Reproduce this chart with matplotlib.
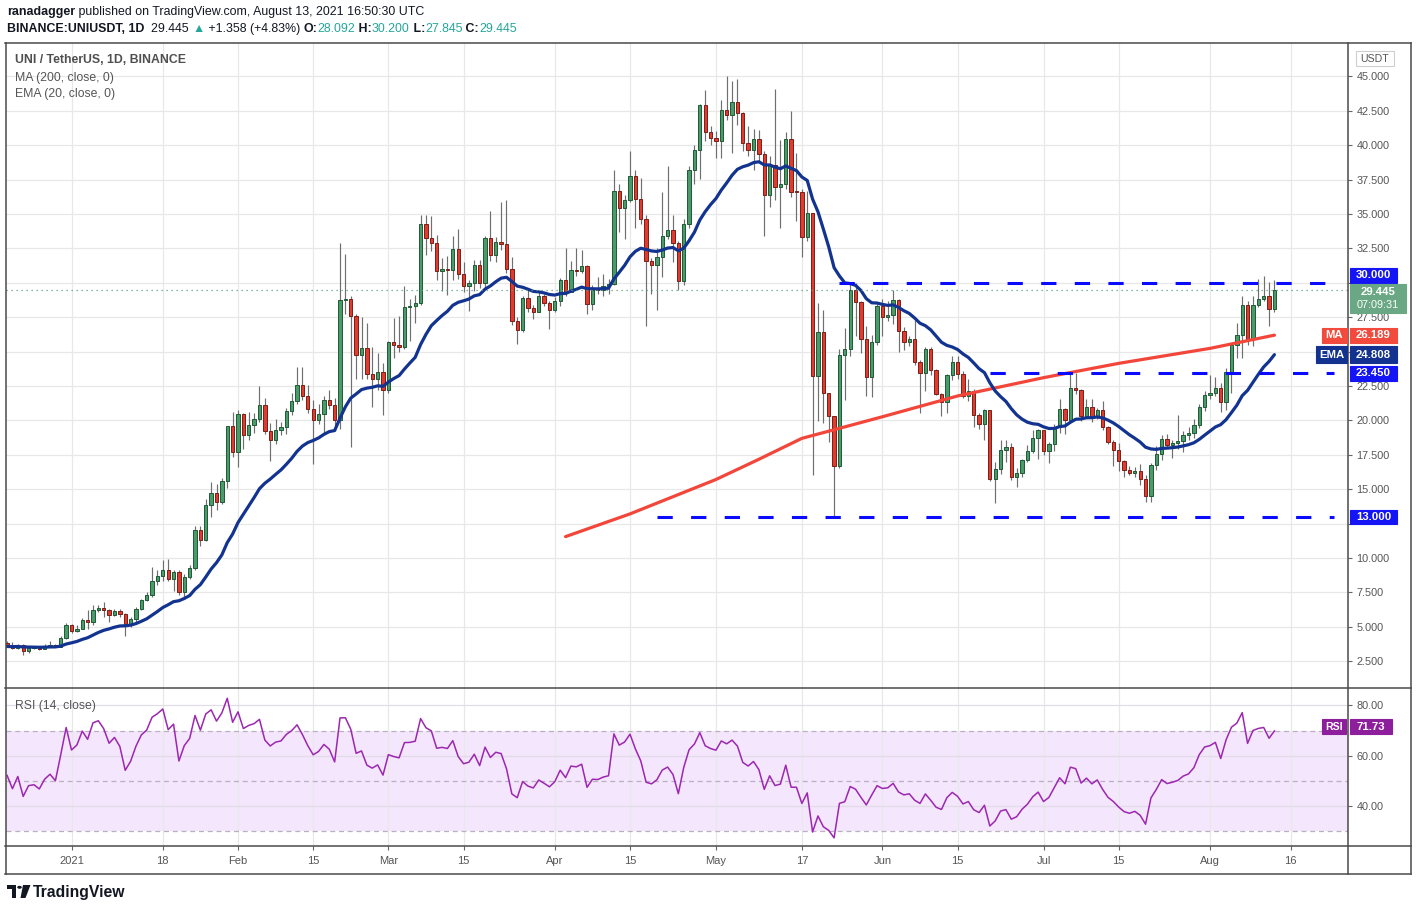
import numpy as np
import pandas as pd
import matplotlib
matplotlib.use("Agg")
import matplotlib.pyplot as plt
from matplotlib.patches import Rectangle, Circle, Polygon
from matplotlib.lines import Line2D

plt.rcParams['font.family'] = ['Liberation Sans', 'DejaVu Sans']

# daily candles, 2020-12-20 .. 2021-08-13 (open = previous close)
first_open = 3.85
closes = [
    3.70, 3.44, 3.68, 3.24, 3.46, 3.48, 3.39, 3.58, 3.68, 3.56, 4.16, 5.16,  # Dec 20-31
    4.67, 4.87, 5.52, 5.33, 6.25, 6.39, 6.20, 5.84, 6.13, 5.90,  # Jan
    5.20, 5.57, 6.30, 6.97, 7.30, 8.33, 8.67, 9.15, 8.50, 8.96,
    7.50, 8.64, 9.27, 12.06, 11.28, 13.87, 14.72, 14.04, 15.61, 19.56, 17.67,
    20.47, 18.90, 19.65, 20.09, 21.13, 19.20, 18.60, 19.29, 19.50, 20.67,  # Feb
    21.39, 22.56, 21.76, 20.81, 19.99, 20.45, 21.47, 21.08, 19.99, 28.75,
    28.80, 27.61, 24.76, 25.24, 23.38, 22.97, 23.50, 22.17,
    25.70, 25.46, 25.30, 28.25, 28.30, 28.53, 34.30, 33.26, 32.90, 30.84,  # Mar
    31.03, 30.90, 32.46, 30.64, 29.75, 29.99, 31.30, 29.99, 33.26, 32.00,
    32.97, 32.82, 31.00, 27.20, 26.53, 28.90, 28.17, 27.88, 29.00, 28.54, 28.05,
    28.70, 30.23, 29.33, 30.93, 30.84, 31.20, 28.49, 29.50, 29.46, 29.75,  # Apr
    29.90, 36.65, 35.40, 36.04, 37.74, 36.10, 34.64, 31.56, 31.30, 31.90,
    33.38, 33.86, 32.92, 30.10, 34.30, 38.17, 39.63, 42.90, 40.96, 40.54,
    40.30, 42.58, 42.20, 43.10, 42.36, 40.18, 39.67, 40.47, 39.38, 36.36,  # May
    38.55, 36.93, 37.15, 40.42, 36.62, 36.60, 33.30, 35.04, 23.20, 26.40,
    22.00, 20.34, 16.71, 24.75, 25.19, 29.48, 28.58, 25.90, 23.18, 25.72, 28.33,
    27.49, 27.66, 28.75, 26.47, 25.67, 25.90, 24.27, 23.44, 25.19, 23.66,  # Jun
    21.92, 21.36, 23.30, 24.22, 23.40, 21.78, 22.14, 20.40, 19.77, 20.74,
    15.77, 16.45, 17.83, 18.03, 15.85, 16.16, 17.10, 17.74, 18.70, 19.30,
    17.78, 18.27, 19.48, 20.81, 20.01, 22.38, 22.20, 20.33, 21.00, 20.25,  # Jul
    20.74, 19.55, 18.46, 17.86, 17.06, 16.38, 16.14, 16.30, 15.77, 14.50,
    16.73, 17.58, 18.62, 18.20, 18.33, 18.50, 18.90, 19.10, 19.66, 20.97, 21.84,
    22.00, 22.37, 21.33, 23.50, 25.45, 26.17, 28.35, 25.88, 28.35, 28.79,  # Aug
    29.00, 28.092, 29.445,
]
highs = [
    3.95, 3.92, 3.75, 3.72, 3.50, 3.55, 3.52, 3.78, 4.00, 3.72, 4.36, 5.30,
    5.20, 5.14, 5.62, 6.20, 6.60, 6.60, 6.83, 6.30, 6.30, 6.30,
    5.98, 5.70, 6.40, 7.05, 7.50, 9.37, 9.15, 9.88, 9.95, 9.10,
    9.10, 8.80, 9.50, 12.30, 12.30, 14.30, 15.50, 15.40, 15.80, 19.60, 20.57,
    20.77, 20.50, 20.57, 20.50, 22.53, 21.60, 19.80, 20.10, 19.90, 20.90,
    22.00, 23.84, 23.84, 22.60, 21.50, 21.20, 21.80, 22.18, 21.60, 32.90,
    32.10, 29.00, 27.70, 27.50, 27.10, 25.30, 24.90, 24.20,
    25.80, 27.47, 27.60, 29.79, 28.80, 29.10, 34.90, 34.95, 34.85, 33.50,
    31.80, 31.95, 33.40, 33.90, 31.50, 30.20, 31.65, 31.65, 33.40, 35.20,
    33.30, 35.90, 36.00, 31.90, 27.50, 29.00, 29.55, 28.40, 29.35, 29.20, 28.70,
    28.98, 30.35, 32.53, 31.60, 32.53, 32.40, 31.30, 29.80, 30.40, 30.60,
    30.30, 38.17, 37.20, 36.40, 39.58, 38.17, 37.60, 34.90, 31.80, 32.50,
    36.60, 38.46, 34.90, 33.00, 34.60, 38.46, 40.00, 42.98, 43.98, 41.40,
    41.00, 43.25, 45.00, 44.64, 44.80, 42.40, 41.40, 41.20, 41.10, 39.60,
    39.20, 44.10, 40.37, 40.97, 42.45, 39.40, 36.80, 36.70, 35.10, 28.50,
    28.00, 21.00, 20.00, 25.20, 26.70, 30.00, 30.00, 28.70, 26.85, 26.20, 28.45,
    28.80, 28.70, 29.45, 28.80, 26.80, 26.15, 27.30, 24.40, 25.30, 25.30,
    23.70, 22.00, 23.40, 24.70, 24.70, 23.55, 23.02, 22.30, 20.50, 20.80,
    20.70, 17.00, 18.56, 18.60, 18.35, 16.50, 17.20, 18.20, 19.30, 19.40,
    19.30, 18.40, 19.70, 21.53, 20.90, 23.47, 23.47, 22.30, 21.53, 21.53,
    20.90, 21.44, 19.60, 18.60, 18.36, 17.10, 16.70, 16.60, 16.80, 16.05,
    16.90, 18.10, 18.91, 18.98, 18.60, 20.36, 19.25, 19.50, 20.08, 21.16, 22.13,
    23.27, 23.15, 22.70, 23.77, 25.60, 27.04, 29.00, 28.70, 29.00, 30.24,
    30.48, 30.06, 30.20,
]
lows = [
    3.60, 3.35, 3.40, 2.93, 3.12, 3.40, 3.33, 3.36, 3.55, 3.50, 3.55, 4.10,
    4.55, 4.60, 4.85, 4.84, 5.10, 6.10, 5.70, 5.33, 5.80, 5.70,
    4.30, 5.00, 5.28, 6.20, 6.90, 7.17, 8.00, 8.30, 8.30, 7.58,
    7.30, 7.02, 8.50, 9.10, 10.90, 11.20, 12.97, 13.46, 13.90, 15.08, 17.30,
    16.60, 17.93, 18.60, 19.10, 19.90, 19.00, 17.01, 18.30, 18.90, 19.00,
    20.40, 21.20, 21.50, 20.50, 16.82, 19.70, 19.10, 20.80, 19.50, 19.40,
    27.70, 18.06, 23.00, 23.00, 23.00, 20.96, 22.20, 20.40,
    22.00, 24.52, 25.00, 25.20, 25.80, 27.10, 28.40, 32.00, 32.30, 30.20,
    29.43, 29.10, 30.20, 30.30, 29.30, 27.93, 29.40, 29.60, 29.60, 31.60,
    31.50, 32.40, 30.70, 26.90, 25.56, 26.45, 27.90, 27.35, 27.88, 28.30, 26.65,
    27.90, 28.30, 29.00, 29.30, 30.50, 30.70, 27.76, 28.00, 29.20, 29.00,
    29.20, 29.80, 33.70, 33.20, 35.90, 33.95, 34.30, 26.86, 29.20, 28.00,
    30.40, 33.20, 31.50, 29.46, 29.80, 34.00, 37.20, 37.54, 40.30, 40.00,
    39.10, 39.10, 41.80, 39.40, 41.45, 39.60, 39.20, 38.22, 38.80, 33.40,
    35.50, 36.00, 33.95, 36.80, 36.20, 34.50, 31.85, 33.00, 16.00, 19.98,
    19.80, 18.40, 13.08, 16.50, 21.50, 24.70, 26.10, 24.90, 21.80, 21.70, 25.50,
    26.10, 27.20, 27.00, 25.00, 25.10, 25.40, 24.00, 20.50, 22.10, 23.30,
    21.87, 20.30, 20.50, 22.90, 23.00, 21.60, 21.42, 19.53, 19.40, 18.58,
    15.60, 13.96, 16.10, 17.00, 15.70, 15.12, 15.90, 17.00, 17.60, 17.18,
    17.50, 16.90, 17.80, 19.10, 19.00, 19.96, 21.90, 19.94, 20.20, 19.90,
    20.09, 19.30, 18.27, 16.70, 16.30, 15.90, 16.00, 15.90, 15.30, 14.10,
    14.07, 16.40, 17.10, 17.97, 17.25, 17.90, 17.70, 18.60, 18.70, 19.45, 20.68,
    21.53, 21.80, 20.60, 20.76, 21.96, 24.55, 24.55, 25.50, 25.41, 28.20,
    28.70, 26.85, 27.845,
]

# 200-day MA (history before the window is not shown)
ma_dates = ['2021-04-03', '2021-04-15', '2021-05-01', '2021-05-09', '2021-05-17',
            '2021-05-24', '2021-06-01', '2021-06-15', '2021-07-01', '2021-07-15',
            '2021-08-01', '2021-08-13']
ma_vals = [11.55, 13.2, 15.7, 17.17, 18.69, 19.42, 20.26, 21.77, 23.1, 24.14, 25.23, 26.19]
ema_seed = 3.55
rsi_seed_gain, rsi_seed_loss = 0.10, 0.08

level_vals = [30.0, 23.45, 13.0]
level_start = ['2021-05-24', '2021-06-21', '2021-04-20']
level_end = '2021-08-24'

tick_dates = ['2021-01-01', '2021-01-18', '2021-02-01', '2021-02-15', '2021-03-01',
              '2021-03-15', '2021-04-01', '2021-04-15', '2021-05-01', '2021-05-17',
              '2021-06-01', '2021-06-15', '2021-07-01', '2021-07-15', '2021-08-01',
              '2021-08-16']
tick_labels = ['2021', '18', 'Feb', '15', 'Mar', '15', 'Apr', '15', 'May', '17',
               'Jun', '15', 'Jul', '15', 'Aug', '16']

# ---------------------------------------------------------------
W, H = 1417, 911
T0 = pd.Timestamp('2021-01-01')


def dnum(d):
    return (pd.to_datetime(d) - T0).days


def fx(px):
    return px / W


def fy(py):
    return 1 - py / H


dates = pd.date_range('2020-12-20', '2021-08-13', freq='D')
x = np.array([(d - T0).days for d in dates], dtype=float)
c = np.array(closes)
o = np.r_[first_open, c[:-1]]
h = np.maximum(np.array(highs), np.maximum(o, c))
l = np.minimum(np.array(lows), np.minimum(o, c))

# EMA 20
alpha = 2 / 21
ema = []
prev = ema_seed
for v in c:
    prev = alpha * v + (1 - alpha) * prev
    ema.append(prev)
ema = np.array(ema)

# RSI 14 (Wilder)
ag, al = rsi_seed_gain, rsi_seed_loss
rsi = []
prevc = first_open
for v in c:
    ch = v - prevc
    ag = (ag * 13 + max(ch, 0)) / 14
    al = (al * 13 + max(-ch, 0)) / 14
    rsi.append(100 - 100 / (1 + ag / al))
    prevc = v
rsi = np.array(rsi)

fig = plt.figure(figsize=(W / 100, H / 100), dpi=100)
fig.patch.set_facecolor('white')

ax = fig.add_axes([fx(6), fy(687.7), (1348 - 6) / W, (687.7 - 43.3) / H])
axr = fig.add_axes([fx(6), fy(846), (1348 - 6) / W, (846 - 687.7) / H], sharex=ax)

xl = (-12.2, 237.7)
grid_c = '#e8e8e8'
xt = [dnum(d) for d in tick_dates]
for a in (ax, axr):
    for s in a.spines.values():
        s.set_visible(False)
    for t in xt:
        a.axvline(t, color=grid_c, lw=0.9, zorder=0.6)

ax.set_xlim(*xl)
ax.set_ylim(0.57, 47.4)
yt = np.arange(2.5, 45.01, 2.5)
for v in yt:
    ax.axhline(v, color=grid_c, lw=0.9, zorder=0.6)

# candles
green, green_e = '#4b9a69', '#1d5a35'
red, red_e = '#dd3c2e', '#7c1e17'
up = c >= o
ax.vlines(x, l, h, color='#6f6f6f', lw=0.85, zorder=2)
ax.bar(x, np.maximum(np.abs(c - o), 0.07), bottom=np.minimum(o, c), width=0.62,
       color=np.where(up, green, red), edgecolor=np.where(up, green_e, red_e),
       linewidth=0.7, zorder=3)

ax.plot([dnum(d) for d in ma_dates], ma_vals, color='#f2463a', lw=2.3, zorder=4,
        solid_capstyle='round')
ax.plot(x, ema, color='#12338f', lw=2.3, zorder=4, solid_capstyle='round')

for v, s in zip(level_vals, level_start):
    ax.hlines(v, dnum(s), dnum(level_end), color='#0a0aff', lw=2.2,
              linestyles=(0, (5, 6)), zorder=5)

ax.axhline(c[-1], color='#5f9c80', lw=0.9, ls=(0, (1, 3)), zorder=4.5)

ax.set_xticks(xt)
ax.tick_params(axis='x', bottom=False, labelbottom=False)
ax.yaxis.tick_right()
ax.set_yticks(yt)
# labels hidden behind the price-scale boxes are left out
hidden = {12.5, 25.0, 30.0}
ax.set_yticklabels(['' if v in hidden else '%.3f' % v for v in yt])
ax.tick_params(axis='y', direction='out', length=3, width=0.8, color='#666',
               labelsize=7.8, labelcolor='#555', pad=3)

# RSI pane
axr.set_ylim(24.2, 87.0)
axr.axhspan(30, 70, color='#f4e6fc', zorder=0.4, lw=0)
for v in (40, 60, 80):
    axr.axhline(v, color='#e2dbe8', lw=0.9, zorder=0.7)
for v in (30, 50, 70):
    axr.axhline(v, color='#b9b0c0', lw=0.9, ls=(0, (4, 3)), zorder=0.8)
axr.plot(x, rsi, color='#9c27b0', lw=1.1, zorder=3)
axr.yaxis.tick_right()
axr.set_yticks([40, 60, 80])
axr.set_yticklabels(['40.00', '60.00', '80.00'])
axr.tick_params(axis='y', direction='out', length=3, width=0.8, color='#666',
                labelsize=7.8, labelcolor='#555', pad=3)
axr.set_xticks(xt)
axr.set_xticklabels(tick_labels)
axr.tick_params(axis='x', direction='out', length=3, width=0.8, color='#666',
                labelsize=8, labelcolor='#555', pad=4)
axr.set_xlim(*xl)

# frame lines
frame_c = '#4a4a4a'
for (x0, y0, x1, y1) in [(5, 43.3, 1411, 43.3), (5, 874, 1411, 874), (5, 687.7, 1411, 687.7),
                         (5, 846, 1411, 846), (5.5, 43.3, 5.5, 874), (1411, 43.3, 1411, 874),
                         (1348, 43.3, 1348, 874)]:
    fig.add_artist(Line2D([fx(x0), fx(x1)], [fy(y0), fy(y1)], color=frame_c, lw=1.1,
                          transform=fig.transFigure))


def box(x0, y0, x1, y1, fc, ec=None):
    fig.add_artist(Rectangle((fx(x0), fy(y1)), (x1 - x0) / W, (y1 - y0) / H,
                             transform=fig.transFigure, facecolor=fc,
                             edgecolor=ec or fc, lw=0.8, zorder=20))


def label(xp, yp, s, color='white', size=8.2, weight='normal', ha='left'):
    fig.text(fx(xp), fy(yp), s, color=color, fontsize=size, fontweight=weight,
             ha=ha, va='center', zorder=21)


# price-scale labels
box(1350, 268, 1397, 283, '#1414f5')
label(1373.5, 275.5, '30.000', ha='center', weight='bold')
box(1350, 284, 1406, 313, '#6aa784')
label(1378, 292, '29.445', ha='center', weight='bold')
label(1378, 304.5, '07:09:31', ha='center', size=7.8)
box(1322, 328, 1347, 343, '#f24a3d')
label(1334.5, 335.5, 'MA', ha='center', weight='bold')
box(1350, 328, 1397, 343, '#f24a3d')
label(1373.5, 335.5, '26.189', ha='center', weight='bold')
box(1316, 346, 1347, 363, '#13318f')
label(1331.5, 354.5, 'EMA', ha='center', weight='bold')
box(1350, 346, 1397, 363, '#13318f')
label(1373.5, 354.5, '24.808', ha='center', weight='bold')
box(1350, 366, 1397, 381, '#1414f5')
label(1373.5, 373.5, '23.450', ha='center', weight='bold')
box(1350, 510, 1397, 524, '#1414f5')
label(1373.5, 517, '13.000', ha='center', weight='bold')
box(1322, 719, 1346, 734, '#8e1f9c')
label(1334, 726.5, 'RSI', ha='center', weight='bold', size=7.6)
box(1350, 719, 1392, 734, '#8e1f9c')
label(1371, 726.5, '71.73', ha='center', weight='bold')
box(1356, 51, 1394, 66, 'white', '#cfcfcf')
label(1375, 58.5, 'USDT', color='#555', ha='center', size=7.6)

# in-pane legends
label(15, 60, 'UNI / TetherUS, 1D, BINANCE', color='#4f4f4f', size=8.8, weight='bold')
label(15, 77.5, 'MA (200, close, 0)', color='#555', size=8.8)
label(15, 94.5, 'EMA (20, close, 0)', color='#555', size=8.8)
label(15, 705.5, 'RSI (14, close)', color='#555', size=8.8)

# header
renderer = fig.canvas.get_renderer()


def runs(xp, yp, parts, size=8.9):
    for s, col, wt in parts:
        t = fig.text(fx(xp), fy(yp), s, color=col, fontsize=size, fontweight=wt,
                     ha='left', va='center')
        xp += t.get_window_extent(renderer).width


dark = '#131722'
teal = '#26a69a'
runs(7, 12.5, [('ranadagger', dark, 'bold'),
               (' published on TradingView.com, August 13, 2021 16:50:30 UTC', dark, 'normal')])
runs(7, 29, [('BINANCE:UNIUSDT, 1D', dark, 'bold'), ('  29.445 ', dark, 'normal'),
             ('\u25b2', teal, 'normal'), (' +1.358 (+4.83%) ', dark, 'normal'),
             ('O:', dark, 'bold'), ('28.092', teal, 'normal'), (' H:', dark, 'bold'),
             ('30.200', teal, 'normal'), (' L:', dark, 'bold'), ('27.845', teal, 'normal'),
             (' C:', dark, 'bold'), ('29.445', teal, 'normal')])

# TradingView footer logo
fig.add_artist(Rectangle((fx(7), fy(889)), 9 / W, 4 / H, transform=fig.transFigure,
                         color=dark, lw=0))
fig.add_artist(Rectangle((fx(11.5), fy(898)), 4.5 / W, 13 / H, transform=fig.transFigure,
                         color=dark, lw=0))
fig.add_artist(Circle((fx(19.5), fy(887.3)), 2.3 / W, transform=fig.transFigure,
                      color=dark, lw=0))
fig.add_artist(Polygon([(fx(23), fy(885)), (fx(30.5), fy(885)), (fx(25.5), fy(898)),
                        (fx(20.5), fy(898))], closed=True, transform=fig.transFigure,
                       color=dark, lw=0))
fig.text(fx(33), fy(892), 'TradingView', color=dark, fontsize=11.3, fontweight='bold',
         ha='left', va='center')

fig.savefig('out.png', dpi=100, facecolor='white')
